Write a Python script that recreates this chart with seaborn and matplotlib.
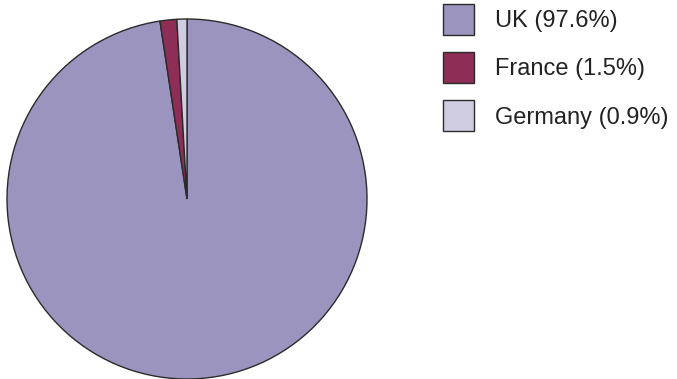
import matplotlib
matplotlib.use("Agg")
import matplotlib.pyplot as plt
import seaborn as sns

countries = ["UK", "France", "Germany"]
shares = [97.6, 1.5, 0.9]
colors = ["#9A94BE", "#8E2D56", "#D0CCE2"]

sns.set_theme(style="white")
plt.rcParams["font.family"] = ["Liberation Sans", "DejaVu Sans"]

fig = plt.figure(figsize=(6.77, 3.79), dpi=100)
ax = fig.add_axes([7 / 677, 0.0, 360 / 677, 360 / 379])

wedges, _ = ax.pie(shares, colors=colors, startangle=90, counterclock=False,
                   wedgeprops=dict(edgecolor="#2b2b2b", linewidth=1.0))
for w in wedges:
    w.set_clip_on(False)
ax.set_xlim(-1, 1)
ax.set_ylim(-1, 1)
ax.set_axis_off()

labels = [f"{c} ({s}%)" for c, s in zip(countries, shares)]
leg = fig.legend(wedges, labels, loc="upper left",
                 bbox_to_anchor=(443 / 677, 1 - 4 / 379),
                 frameon=False, fontsize=17, borderpad=0, borderaxespad=0,
                 handlelength=1.31, handleheight=1.64, handletextpad=0.89,
                 labelspacing=0.73)
for t in leg.get_texts():
    t.set_color("#222222")

fig.savefig("out.png", dpi=100)
